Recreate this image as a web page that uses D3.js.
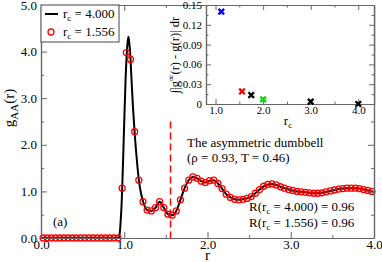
<!DOCTYPE html>
<html><head><meta charset="utf-8">
<script src="https://cdn.jsdelivr.net/npm/d3@7"></script>
<style>
body{margin:0;background:#fff}
svg{display:block;font-family:"Liberation Serif","Times New Roman",serif}
</style></head><body>
<svg id="c" width="382" height="262"></svg>
<script>
// ---- data ----
const circR = [0.025,0.075,0.125,0.175,0.225,0.275,0.325,0.375,0.425,0.475,0.525,0.575,0.625,0.675,0.725,0.775,0.825,0.875,0.925,
  0.975,1.025,1.075,1.125,1.175,1.225,1.275,1.325,1.375,1.425,1.475,1.525,1.575,1.625,1.675,1.725,1.775,1.825,1.875,1.925,1.975,
  2.025,2.075,2.125,2.175,2.225,2.275,2.325,2.375,2.425,2.475,2.525,2.575,2.625,2.675,2.725,2.775,2.825,2.875,2.925,2.975,
  3.025,3.075,3.125,3.175,3.225,3.275,3.325,3.375,3.425,3.475,3.525,3.575,3.625,3.675,3.725,3.775,3.825,3.875,3.925,3.975];
const circG = [0,0,0,0,0,0,0,0,0,0,0,0,0,0,0,0,0,0,0,
  1.07,3.98,3.83,2.28,1.24,0.78,0.60,0.58,0.65,0.78,0.65,0.51,0.49,0.58,0.82,1.07,1.24,1.31,1.28,1.22,1.19,
  1.23,1.24,1.17,1.06,0.94,0.87,0.83,0.82,0.83,0.85,0.89,0.96,1.04,1.11,1.15,1.16,1.14,1.10,1.07,1.04,
  1.02,1.00,0.99,0.98,0.97,0.96,0.96,0.97,0.99,1.01,1.03,1.05,1.06,1.07,1.07,1.07,1.06,1.04,1.02,1.00];
const lineR = [0.0,0.925,0.94,0.955,0.97,0.985,1.0,1.015,1.03,1.04,1.05,1.06,1.075,1.09,1.105,1.125,1.15,1.175,1.2,1.225,
  1.275,1.325,1.375,1.425,1.475,1.525,1.575,1.625,1.675,1.725,1.775,1.825,1.875,1.925,1.975,
  2.025,2.075,2.125,2.175,2.225,2.275,2.325,2.375,2.425,2.475,2.525,2.575,2.625,2.675,2.725,2.775,2.825,2.875,2.925,2.975,
  3.025,3.075,3.125,3.175,3.225,3.275,3.325,3.375,3.425,3.475,3.525,3.575,3.625,3.675,3.725,3.775,3.825,3.875,3.925,3.975,4.0];
const lineG = [0,0,0.03,0.3,0.8,1.6,2.5,3.35,3.95,4.2,4.32,4.2,3.85,3.3,2.8,2.25,1.7,1.25,0.97,0.79,
  0.60,0.58,0.65,0.78,0.65,0.51,0.49,0.58,0.82,1.07,1.24,1.31,1.28,1.22,1.19,
  1.23,1.24,1.17,1.06,0.94,0.87,0.83,0.82,0.83,0.85,0.89,0.96,1.04,1.11,1.15,1.16,1.14,1.10,1.07,1.04,
  1.02,1.00,0.99,0.98,0.97,0.96,0.96,0.97,0.99,1.01,1.03,1.05,1.06,1.07,1.07,1.07,1.06,1.04,1.02,1.00,0.99];
const rcCut = 1.556;
const cutTop = 2.5;
const mainXTicks = [0,1,2,3,4];
const mainXMinor = [0.5,1.5,2.5,3.5];
const mainYTicks = [0,1,2,3,4,5];
const mainYMinor = [0.5,1.5,2.5,3.5,4.5];
const insetR = [1.122,1.556,1.75,2.0,3.0,4.0];
const insetV = [0.140,0.019,0.0135,0.007,0.0035,0.0];
const insetColors = ["#0000ff","#ff0000","#000000","#00e000","#000000","#000000"];
const insetXTicks = [1,2,3,4];
const insetXMinor = [1.5,2.5,3.5];
const insetYTicks = [0,0.03,0.06,0.09,0.12,0.15];
const insetYMinor = [0.015,0.045,0.075,0.105,0.135];
const legendLabels = ["4.000","1.556"];
const rValues = ["4.000","1.556"];
const rScore = ["0.96","0.96"];

// ---- drawing ----
const svg = d3.select("#c");
const axisColor = "#666";
const x = d3.scaleLinear([0,4],[41,374]);
const y = d3.scaleLinear([0,5],[238,5]);

function styleAxis(g, fs){
  g.attr("font-family", null).attr("font-size", fs);
  g.selectAll("path.domain").attr("stroke", axisColor).attr("stroke-width", 1.2);
  g.selectAll(".tick line").attr("stroke", axisColor).attr("stroke-width", 1);
  g.selectAll(".tick text").attr("fill", "#000");
}
function frame(xs, ys, xT, xM, yT, yM, maj, min, fs, xf, yf){
  const [x0,x1] = xs.range(), [y0,y1] = ys.range();
  const gb = svg.append("g").attr("transform",`translate(0,${y0})`)
    .call(d3.axisBottom(xs).tickValues(xT).tickSizeInner(-maj).tickSizeOuter(0).tickPadding(2).tickFormat(xf));
  styleAxis(gb, fs);
  svg.append("g").attr("transform",`translate(0,${y0})`)
    .call(d3.axisBottom(xs).tickValues(xM).tickSizeInner(-min).tickSizeOuter(0).tickFormat(""))
    .call(g=>styleAxis(g,fs));
  svg.append("g").attr("transform",`translate(0,${y1})`)
    .call(d3.axisTop(xs).tickValues(xT).tickSizeInner(-maj).tickSizeOuter(0).tickFormat(""))
    .call(g=>styleAxis(g,fs));
  svg.append("g").attr("transform",`translate(0,${y1})`)
    .call(d3.axisTop(xs).tickValues(xM).tickSizeInner(-min).tickSizeOuter(0).tickFormat(""))
    .call(g=>styleAxis(g,fs));
  const gl = svg.append("g").attr("transform",`translate(${x0},0)`)
    .call(d3.axisLeft(ys).tickValues(yT).tickSizeInner(-maj).tickSizeOuter(0).tickPadding(4).tickFormat(yf));
  styleAxis(gl, fs);
  svg.append("g").attr("transform",`translate(${x0},0)`)
    .call(d3.axisLeft(ys).tickValues(yM).tickSizeInner(-min).tickSizeOuter(0).tickFormat(""))
    .call(g=>styleAxis(g,fs));
  svg.append("g").attr("transform",`translate(${x1},0)`)
    .call(d3.axisRight(ys).tickValues(yT).tickSizeInner(-maj).tickSizeOuter(0).tickFormat(""))
    .call(g=>styleAxis(g,fs));
  svg.append("g").attr("transform",`translate(${x1},0)`)
    .call(d3.axisRight(ys).tickValues(yM).tickSizeInner(-min).tickSizeOuter(0).tickFormat(""))
    .call(g=>styleAxis(g,fs));
}

// main data
svg.append("line")
  .attr("x1", x(rcCut)).attr("x2", x(rcCut)).attr("y1", y(cutTop)).attr("y2", y(0))
  .attr("stroke","#ff0000").attr("stroke-width",1.5).attr("stroke-dasharray","7,4");

const lineData = lineR.map((r,i)=>[r,lineG[i]]);
svg.append("path").datum(lineData)
  .attr("fill","none").attr("stroke","#000").attr("stroke-width",2)
  .attr("d", d3.line().x(d=>x(d[0])).y(d=>y(d[1])).curve(d3.curveMonotoneX));

svg.append("g").selectAll("circle").data(circR.map((r,i)=>[r,circG[i]])).join("circle")
  .attr("cx", d=>x(d[0])).attr("cy", d=>y(d[1])).attr("r", 3)
  .attr("fill","none").attr("stroke","#ff0000").attr("stroke-width",1.3);

frame(x, y, mainXTicks, mainXMinor, mainYTicks, mainYMinor, 6, 3, 13, d3.format(".1f"), d3.format(".1f"));

// axis titles
svg.append("text").attr("x", x(2)).attr("y", 260).attr("text-anchor","middle").attr("font-size",15).text("r");
const yl = svg.append("text").attr("transform","translate(14,108) rotate(-90)").attr("text-anchor","middle").attr("font-size",15);
yl.append("tspan").text("g");
yl.append("tspan").attr("dy",4).attr("font-size",11).text("AA");
yl.append("tspan").attr("dy",-4).text("(r)");

// legend
svg.append("rect").attr("x",41).attr("y",5).attr("width",78).attr("height",37)
  .attr("fill","#fff").attr("stroke","#444").attr("stroke-width",1);
svg.append("line").attr("x1",45).attr("x2",58).attr("y1",14).attr("y2",14).attr("stroke","#000").attr("stroke-width",2);
svg.append("circle").attr("cx",51).attr("cy",32).attr("r",3).attr("fill","none").attr("stroke","#ff0000").attr("stroke-width",1.3);
legendLabels.forEach((lab,i)=>{
  const t = svg.append("text").attr("x",63).attr("y",18+i*18).attr("font-size",13);
  t.append("tspan").text("r");
  t.append("tspan").attr("dy",3).attr("font-size",9).text("c");
  t.append("tspan").attr("dy",-3).text(" = " + lab);
});

// annotations
svg.append("text").attr("x",187).attr("y",147).attr("font-size",13).text("The asymmetric dumbbell");
svg.append("text").attr("x",187).attr("y",162).attr("font-size",13).text("(\u03c1 = 0.93, T = 0.46)");
rValues.forEach((v,i)=>{
  const t = svg.append("text").attr("x",249).attr("y",211+i*16).attr("font-size",13);
  t.append("tspan").text("R(r");
  t.append("tspan").attr("dy",3).attr("font-size",9).text("c");
  t.append("tspan").attr("dy",-3).text(" = " + v + ") = " + rScore[i]);
});
svg.append("text").attr("x",53).attr("y",226).attr("font-size",13).text("(a)");

// inset
const xi = d3.scaleLinear([0.8,4.33],[206,374]);
const yi = d3.scaleLinear([0,0.15],[104,5]);
svg.append("rect").attr("x",206).attr("y",5).attr("width",168).attr("height",99).attr("fill","#fff");
frame(xi, yi, insetXTicks, insetXMinor, insetYTicks, insetYMinor, 5, 2.5, 11,
  d3.format(".1f"), d=> d===0 ? "0" : d3.format(".2f")(d));
svg.append("g").selectAll("path").data(insetR.map((r,i)=>[r,insetV[i],insetColors[i]])).join("path")
  .attr("transform", d=>`translate(${xi(d[0])},${yi(d[1])})`)
  .attr("d", d3.symbol(d3.symbolX, 22))
  .attr("fill","none").attr("stroke", d=>d[2]).attr("stroke-width",2.3);
const xl = svg.append("text").attr("x",288).attr("y",125).attr("text-anchor","middle").attr("font-size",13);
xl.append("tspan").text("r");
xl.append("tspan").attr("dy",3).attr("font-size",9).text("c");
const il = svg.append("text").attr("transform","translate(179,55) rotate(-90)").attr("text-anchor","middle").attr("font-size",12.5);
il.append("tspan").text("\u222b|g");
il.append("tspan").attr("dy",-5).attr("font-size",9).text("\u221e");
il.append("tspan").attr("dy",5).text("(r) - g(r)| dr");
</script>
</body></html>
